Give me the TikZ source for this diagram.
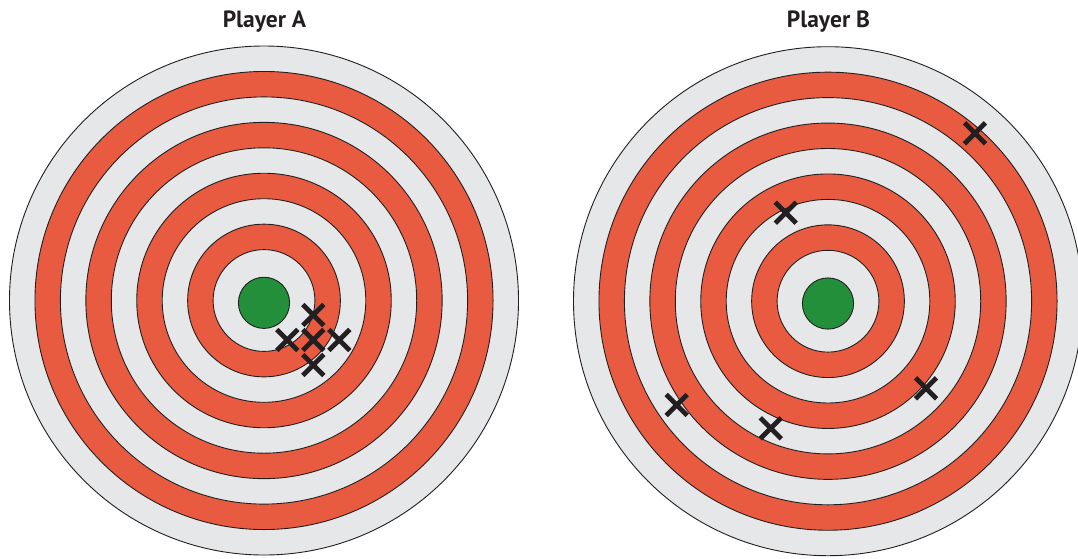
\documentclass[tikz,border=0pt]{standalone}
\usepackage{fontspec}
\setmainfont{PT Sans}
\definecolor{ringred}{HTML}{E95B40}
\definecolor{ringgray}{HTML}{E6E7E8}
\definecolor{bullgreen}{HTML}{248F3A}
\definecolor{ink}{HTML}{231F20}
\tikzset{
  ring/.style={draw=ink, line width=0.9pt},
  bull/.style={draw=ink, line width=0.9pt, fill=bullgreen},
  hitline/.style={draw=ink, line width=4.8pt},
  hit/.pic={\draw[hitline] (-10.5,-10.5) -- (10.5,10.5) (-10.5,10.5) -- (10.5,-10.5);},
  title/.style={text=ink, font=\fontsize{23.5}{23.5}\selectfont\bfseries, inner sep=0pt, anchor=base}
}
\begin{document}
\begin{tikzpicture}[x=1pt,y=-1pt]
\useasboundingbox (0,0) rectangle (1078,558);
\clip (0,0) rectangle (1078,558);
\fill[white] (0,0) rectangle (1078,558);
% targets
\foreach \cx/\cy in {264/300.5, 828/301.2}{
  \foreach \k in {10,9,...,2}{
    \ifodd\k \def\ringcol{ringred}\else\def\ringcol{ringgray}\fi
    \draw[ring, fill=\ringcol] (\cx,\cy) circle[radius=25.45*\k];
  }
  \draw[bull] (\cx,\cy+2.3) circle[radius=25.6];
}
% titles
\node[title] (titleA) at (264.5,27) {Player A};
\node[title] (titleB) at (828.5,27) {Player B};
% hits of player A
\pic at (313.3,315) {hit};
\pic at (287.3,340) {hit};
\pic at (313.3,340) {hit};
\pic at (339.3,340) {hit};
\pic at (313.3,365) {hit};
% hits of player B
\pic at (975,133.3) {hit};
\pic at (785.7,212.7) {hit};
\pic at (676.7,405) {hit};
\pic at (770.7,428.3) {hit};
\pic at (926,388.3) {hit};
\end{tikzpicture}
\end{document}
